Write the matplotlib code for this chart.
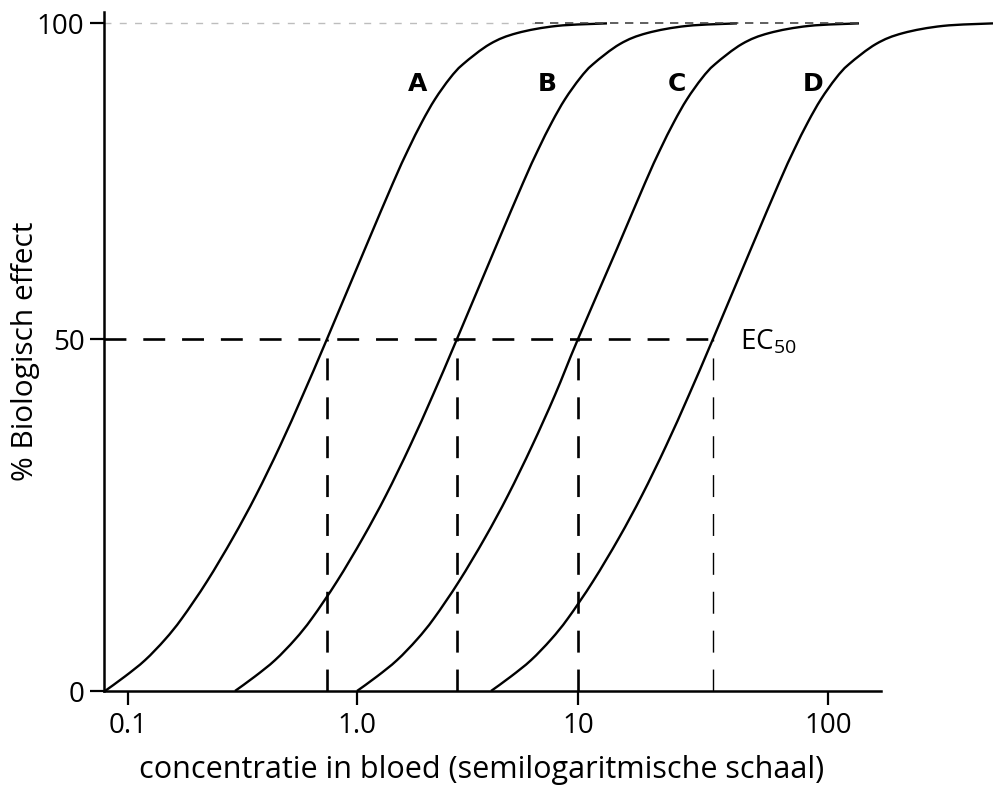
import numpy as np
import matplotlib.pyplot as plt
from matplotlib.path import Path
from matplotlib.patches import PathPatch

# % effect levels (shared) and the blood concentration where each curve hits them
effect = [0, 2.07, 4.38, 7.32, 10.33, 15.57, 21.76, 27.81, 34.80, 42.07, 50,
          64.28, 74.69, 79.91, 84.34, 87.94, 91.27, 93.48, 96.68, 98.40, 99.54, 99.94]
conc_a = [0.0793, 0.0970, 0.1187, 0.1451, 0.1721, 0.2213, 0.2873, 0.3622, 0.4611, 0.5808, 0.7396,
          1.087, 1.455, 1.701, 1.968, 2.254, 2.635, 3.018, 3.998, 5.297, 8.035, 13.06]
conc_b = [0.2932, 0.3585, 0.4384, 0.5362, 0.6361, 0.8177, 1.064, 1.353, 1.737, 2.208, 2.834,
          4.211, 5.638, 6.592, 7.627, 8.734, 10.19, 11.48, 14.72, 18.88, 27.29, 43.25]
conc_c = [1.000, 1.232, 1.517, 1.868, 2.231, 2.894, 3.795, 4.824, 6.193, 7.872, 10.0,
          14.32, 18.54, 21.28, 24.21, 27.29, 31.33, 35.32, 45.29, 58.08, 83.95, 133.0]
conc_d = [4.040, 4.976, 6.129, 7.547, 9.011, 11.48, 14.59, 18.03, 22.49, 27.80, 34.67,
          49.20, 63.68, 73.11, 83.18, 93.76, 107.6, 121.3, 155.6, 199.5, 288.4, 457.1]
curve_names = ['A', 'B', 'C', 'D']
name_x = [1.87, 7.24, 24.9, 87.1]
ec50 = [0.74, 2.834, 10.0, 34.67]

xticks = [0.1, 1, 10, 100]
xtick_labels = ['0.1', '1.0', '10', '100']
yticks = [0, 50, 100]

# the drawing is hand made: decades and halves are not equally long
dec_pos = [-2, -1, 0, 1, 2, 3]
dec_px = [-101, 128, 357, 578, 828, 1078]
half_val = [-100, 0, 50, 100, 200]
half_px = [-704, 0, 352, 668, 1300]

def fx(x):
    return np.interp(np.log10(np.clip(x, 1e-9, None)), dec_pos, dec_px)

def fx_inv(p):
    return 10 ** np.interp(p, dec_px, dec_pos)

def fy(y):
    return np.interp(y, half_val, half_px)

def fy_inv(p):
    return np.interp(p, half_px, half_val)

def smooth_curve(xs, ys):
    # catmull-rom through the read points, done in scale space, handed back in data units
    p = np.column_stack([fx(np.array(xs)), fy(np.array(ys))])
    verts = [p[0]]
    codes = [Path.MOVETO]
    n = len(p)
    for i in range(n - 1):
        p0 = p[max(i - 1, 0)]
        p1, p2 = p[i], p[i + 1]
        p3 = p[min(i + 2, n - 1)]
        verts += [p1 + (p2 - p0) / 6, p2 - (p3 - p1) / 6, p2]
        codes += [Path.CURVE4] * 3
    verts = np.array(verts)
    verts = np.column_stack([fx_inv(verts[:, 0]), fy_inv(verts[:, 1])])
    return Path(verts, codes)

plt.rcParams['font.family'] = ['Open Sans', 'DejaVu Sans']

fig = plt.figure(figsize=(9.93, 7.91), dpi=100)
ax = fig.add_axes([104 / 993, 100 / 791, 777 / 993, 679 / 791])
ax.set_xscale('function', functions=(fx, fx_inv))
ax.set_yscale('function', functions=(fy, fy_inv))
ax.set_xlim(fx_inv(104), fx_inv(881))
ax.set_ylim(0, fy_inv(679))

for c in [conc_a, conc_b, conc_c, conc_d]:
    ax.add_patch(PathPatch(smooth_curve(c, effect), fill=False, edgecolor='black',
                           lw=1.7, clip_on=False, transform=ax.transData))

# guide lines
ax.plot([fx_inv(104), ec50[-1]], [50, 50], color='black', lw=1.9,
        linestyle=(0, (8.3, 6.4)), clip_on=False)
for i, e in enumerate(ec50):
    lw = 1.0 if i == 3 else 1.9
    ax.plot([e, e], [0, 50], color='black', lw=lw,
            linestyle=(0, (15.8 / lw, 12.2 / lw)))
ax.plot([fx_inv(104), 6.4], [100, 100], color='#bdbdbd', lw=1.0,
        linestyle=(0, (5, 6)))
ax.plot([6.4, 134], [100, 100], color='#444444', lw=1.2,
        linestyle=(0, (5, 4)))

for name, xl in zip(curve_names, name_x):
    ax.text(xl, 90.3, name, family='DejaVu Sans', fontweight='bold',
            fontsize=18, ha='center', va='center')
ax.text(44.5, 48.6, r'EC$_{\mathregular{50}}$', fontsize=20, ha='left', va='baseline')

for s in ['top', 'right']:
    ax.spines[s].set_visible(False)
for s in ['left', 'bottom']:
    ax.spines[s].set_linewidth(1.8)

ax.set_xticks(xticks)
ax.set_xticklabels(xtick_labels)
ax.set_yticks(yticks)
ax.xaxis.set_minor_locator(plt.NullLocator())
ax.yaxis.set_minor_locator(plt.NullLocator())
ax.tick_params(axis='both', direction='out', length=10, width=1.6, labelsize=20, pad=5)
ax.tick_params(axis='y', pad=4)

ax.set_xlabel('concentratie in bloed (semilogaritmische schaal)', fontsize=22, labelpad=12)
ax.xaxis.set_label_coords((482 - 104) / 777, -0.094)
ax.set_ylabel('% Biologisch effect', fontsize=21.5, labelpad=-2)

fig.savefig('out.png', dpi=100)
